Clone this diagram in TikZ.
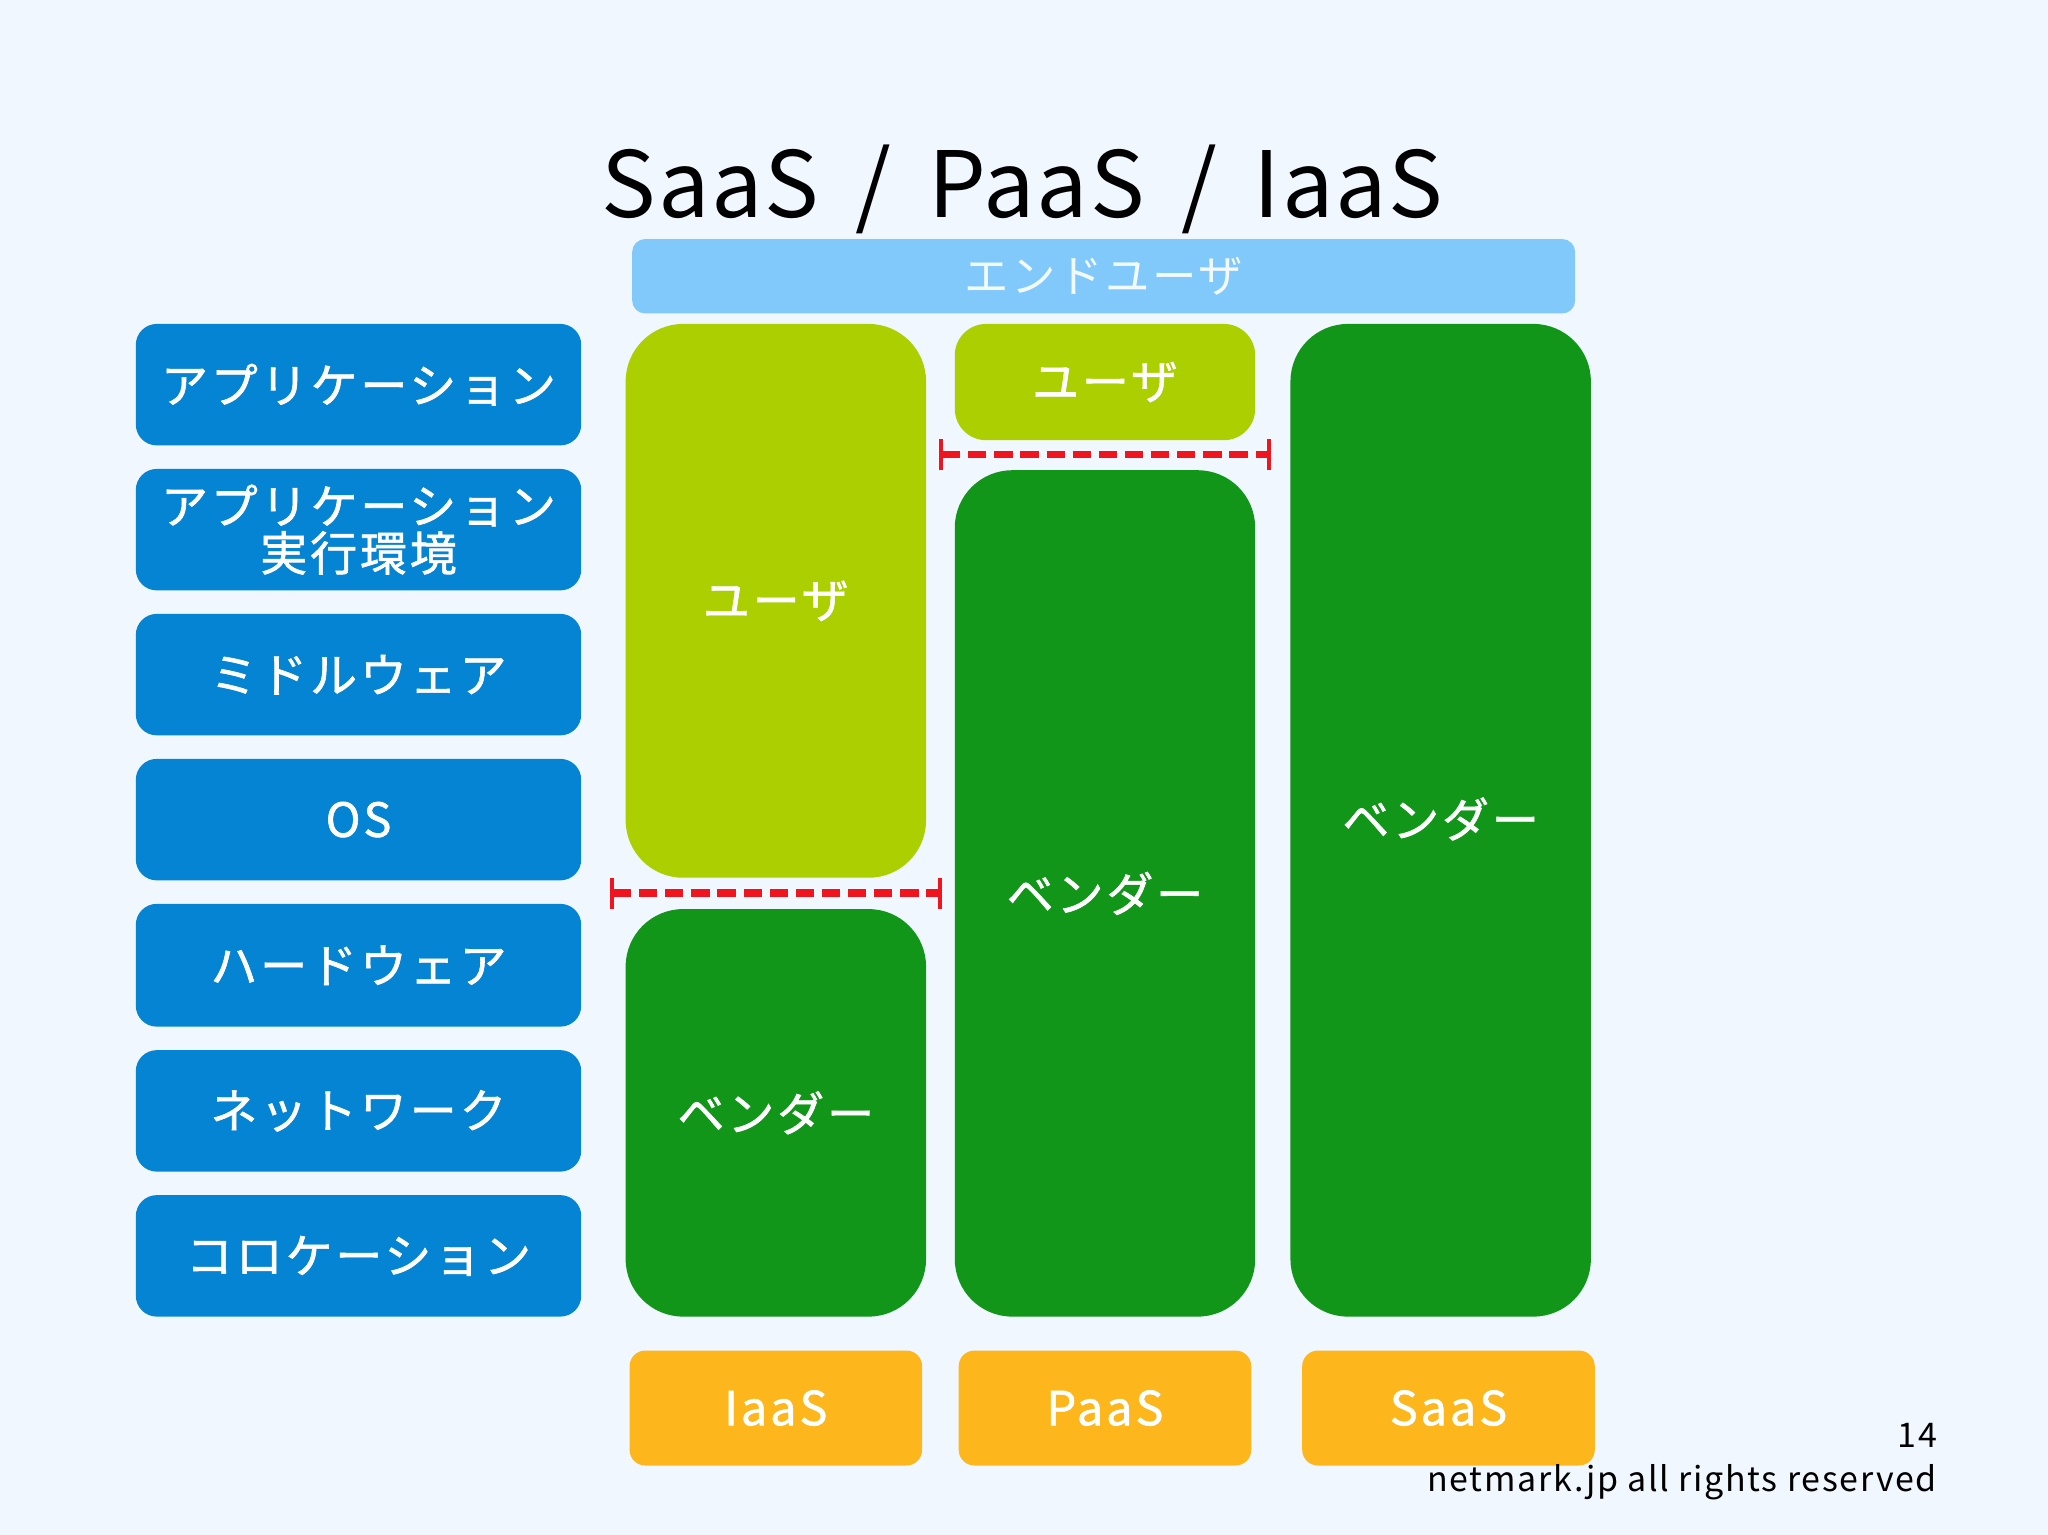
\documentclass[tikz,border=0pt]{standalone}
\usepackage{fontspec}
\setmainfont{Noto Sans CJK JP}[LetterSpace=6]
\usetikzlibrary{arrows.meta}
\definecolor{bg}{HTML}{F1F7FE}
\definecolor{enduser}{HTML}{82C9FB}
\definecolor{layer}{HTML}{0584D3}
\definecolor{lime}{HTML}{ABCF00}
\definecolor{vendor}{HTML}{12961A}
\definecolor{orangec}{HTML}{FDB61C}
\definecolor{redl}{HTML}{F0141E}
\newcommand{\bx}[7]{\node[#6, minimum width={(#4-#2)*0.5pt}, minimum height={(#5-#3)*0.5pt}] (#1) at ({(#2+#4)/2},{(#3+#5)/2}) {#7};}
\begin{document}
\begin{tikzpicture}[x=0.5pt,y=-0.5pt,
  base/.style={inner sep=0pt, text=white, font=\fontsize{18pt}{20pt}\selectfont\addfontfeatures{FakeBold=1.2}, align=center},
  lay/.style={base, fill=layer, rounded corners=8pt},
  usr/.style={base, fill=lime, rounded corners=22pt},
  ven/.style={base, fill=vendor, rounded corners=22pt},
  lbl/.style={base, fill=orangec, rounded corners=6pt},
  eu/.style={base, fill=enduser, rounded corners=5pt, text=white!90!enduser, font=\fontsize{17pt}{18pt}\selectfont},
  split/.style={draw=redl, line width=3pt, dash pattern=on 7pt off 3pt, {Bar[width=12pt,line width=1.5pt]}-{Bar[width=12pt,line width=1.5pt]}}]
\fill[bg] (0,0) rectangle (1568,1175);
\node[font=\fontsize{35pt}{40pt}\selectfont\addfontfeatures{LetterSpace=2}] (title) at (783,145) {SaaS\hspace{14pt}/\hspace{14pt}PaaS\hspace{14pt}/\hspace{14pt}IaaS};
\bx{eu}{484}{183}{1206}{240}{eu}{エンドユーザ}
\bx{l1}{104}{248}{445}{341}{lay}{アプリケーション}
\bx{l2}{104}{359}{445}{452}{lay}{アプリケーション\\[-2pt]実行環境}
\bx{l3}{104}{470}{445}{563}{lay}{ミドルウェア}
\bx{l4}{104}{581}{445}{674}{lay}{OS}
\bx{l5}{104}{692}{445}{786}{lay}{ハードウェア}
\bx{l6}{104}{804}{445}{897}{lay}{ネットワーク}
\bx{l7}{104}{915}{445}{1008}{lay}{コロケーション}
\bx{u1}{479}{248}{709}{672}{usr}{ユーザ}
\bx{v1}{479}{696}{709}{1008}{ven}{ベンダー}
\bx{u2}{731}{248}{961}{337}{usr, rounded corners=12pt}{ユーザ}
\bx{v2}{731}{360}{961}{1008}{ven}{ベンダー}
\bx{v3}{988}{248}{1218}{1008}{ven}{}
\node[base] (v3t) at (1103,627) {ベンダー};
\bx{b1}{482}{1034}{706}{1122}{lbl}{IaaS}
\bx{b2}{734}{1034}{958}{1122}{lbl}{PaaS}
\bx{b3}{997}{1034}{1221}{1122}{lbl}{SaaS}
\coordinate (r1a) at (467,684); \coordinate (r1b) at (721,684);
\coordinate (r2a) at (719,348); \coordinate (r2b) at (973,348);
\draw[split] (r1a) -- (r1b);
\draw[split] (r2a) -- (r2b);
\node[anchor=east, font=\fontsize{13pt}{15pt}\selectfont] (pg) at (1490,1099) {14};
\node[anchor=east, font=\fontsize{13pt}{15pt}\selectfont\addfontfeatures{LetterSpace=5}] (cr) at (1490,1135) {netmark.jp all rights reserved};
\end{tikzpicture}
\end{document}
